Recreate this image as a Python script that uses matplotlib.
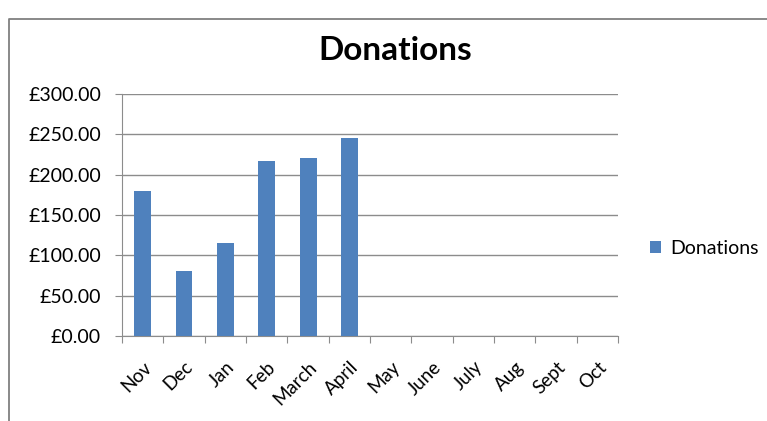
import matplotlib.pyplot as plt
from matplotlib.lines import Line2D
from matplotlib.ticker import FuncFormatter

# data
months = ['Nov', 'Dec', 'Jan', 'Feb', 'March', 'April',
          'May', 'June', 'July', 'Aug', 'Sept', 'Oct']
donations = [180, 80, 115, 217, 220, 245, 0, 0, 0, 0, 0, 0]
y_ticks = [0, 50, 100, 150, 200, 250, 300]

plt.rcParams['font.family'] = ['Lato', 'DejaVu Sans']

fig = plt.figure(figsize=(7.67, 4.21), dpi=100)

# chart border, only the left and top edges are inside the crop
bx = 8.5 / 767
by = 1 - 18.5 / 421
fig.lines.append(Line2D([bx, bx, 1], [0, by, by], transform=fig.transFigure,
                        color='#808080', linewidth=1.3))

ax = fig.add_axes([0.159, 0.202, 0.647, 0.575])

x = list(range(len(months)))
bars = ax.bar(x, donations, width=0.41, color='#4F81BD', label='Donations', zorder=3)

ax.set_xlim(-0.5, len(months) - 0.5)
ax.set_ylim(0, 300)
ax.set_yticks(y_ticks)
ax.yaxis.set_major_formatter(FuncFormatter(lambda v, p: '£%.2f' % v))
ax.grid(axis='y', color='#8c8c8c', linewidth=1, zorder=0)

# tick marks on category boundaries, labels in the middle
ax.set_xticks([i - 0.5 for i in range(len(months) + 1)])
ax.set_xticklabels([])
ax.set_xticks(x, minor=True)
ax.set_xticklabels(months, minor=True, rotation=45, ha='right',
                   rotation_mode='anchor', fontsize=13.5)
ax.tick_params(axis='x', which='major', length=5, color='#8c8c8c')
ax.tick_params(axis='x', which='minor', length=0, pad=16)
ax.tick_params(axis='y', length=5, color='#8c8c8c', labelsize=14, pad=10)

for s in ['top', 'right']:
    ax.spines[s].set_visible(False)
ax.spines['left'].set_color('#8c8c8c')
ax.spines['bottom'].set_color('#8c8c8c')

fig.text(0.515, 0.88, 'Donations', ha='center', va='center',
         fontsize=24, fontweight='bold')

fig.legend(handles=[bars], labels=['Donations'], loc='center left',
           bbox_to_anchor=(0.848, 0.41), frameon=False, fontsize=14,
           borderpad=0, borderaxespad=0,
           handlelength=0.55, handleheight=0.55, handletextpad=0.45)

fig.savefig('out.png', dpi=100)
